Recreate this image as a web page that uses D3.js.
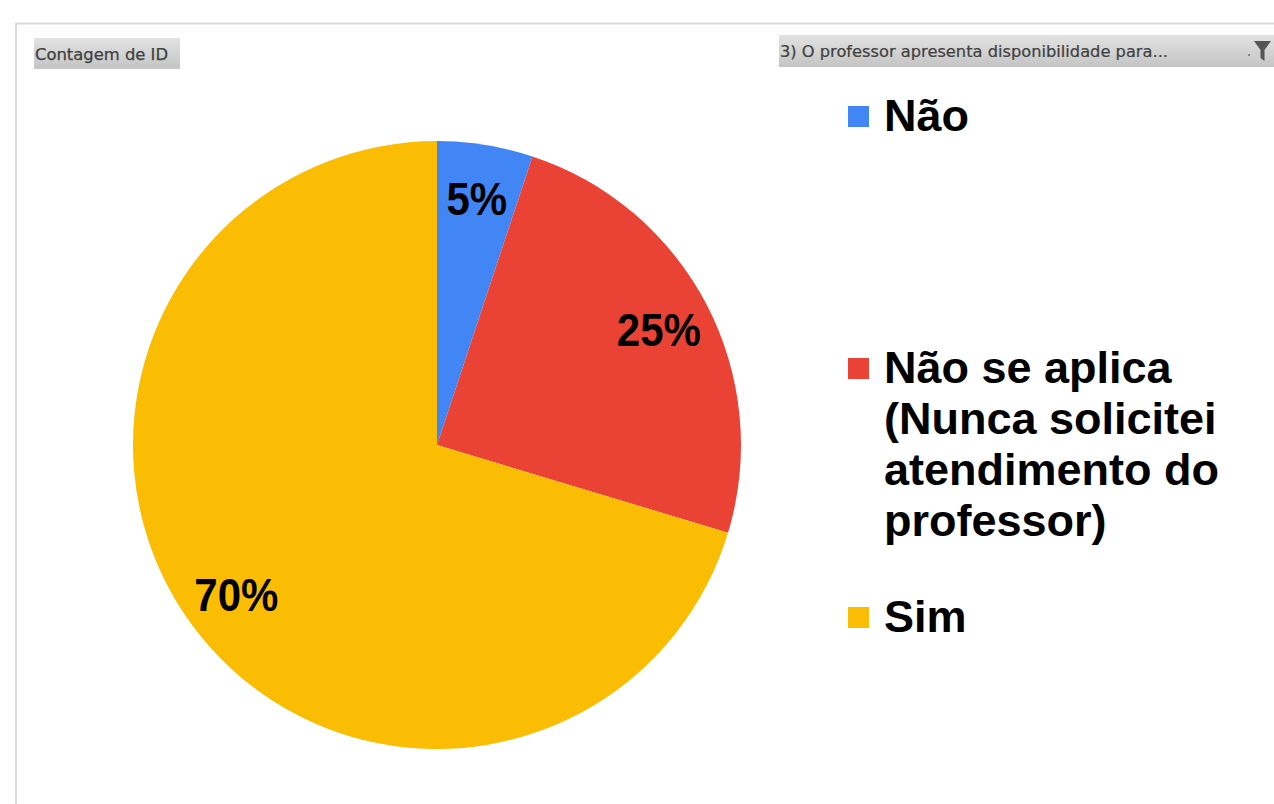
<!DOCTYPE html>
<html>
<head>
<meta charset="utf-8">
<script src="https://cdn.jsdelivr.net/npm/d3@7"></script>
<style>
  html, body { margin: 0; padding: 0; background: #fff; }
  svg { display: block; }
</style>
</head>
<body>
<svg id="chart" width="1274" height="804"></svg>
<script>
// ---- data (counts) ----
const categories = ["Não", "Não se aplica (Nunca solicitei atendimento do professor)", "Sim"];
const values = [6, 29, 83];
const colors = ["#4285F4", "#EA4335", "#FBBC04"];
const fieldButtonLabel = "Contagem de ID";
const filterButtonLabel = "3) O professor apresenta disponibilidade para...";

// ---- layout ----
const W = 1274, H = 804;
const cx = 437, cy = 445, R = 304;
const labelR = 250;
const fontFamily = "'Liberation Sans', Arial, Helvetica, sans-serif";
const legendX = 848, legendTextX = 884, legendMaxW = 375, legendLineH = 51;
const legendFirstBaselines = [131, 383, 632];

const svg = d3.select("#chart");

// gradient for buttons
const defs = svg.append("defs");
const g1 = defs.append("linearGradient").attr("id", "btn").attr("x1", 0).attr("x2", 0).attr("y1", 0).attr("y2", 1);
g1.append("stop").attr("offset", "0%").attr("stop-color", "#e2e2e2");
g1.append("stop").attr("offset", "50%").attr("stop-color", "#d3d3d3");
g1.append("stop").attr("offset", "100%").attr("stop-color", "#c4c4c4");

// frame
svg.append("line").attr("x1", 16).attr("x2", W).attr("y1", 23.5).attr("y2", 23.5)
  .attr("stroke", "#dadada").attr("stroke-width", 2);
svg.append("line").attr("x1", 16).attr("x2", 16).attr("y1", 23).attr("y2", H)
  .attr("stroke", "#dadada").attr("stroke-width", 2);

// field button
svg.append("rect").attr("x", 34).attr("y", 38).attr("width", 146).attr("height", 31)
  .attr("fill", "url(#btn)");
svg.append("text").attr("x", 35).attr("y", 60)
  .attr("font-family", "Tahoma, 'DejaVu Sans', sans-serif").attr("font-size", 15)
  .attr("fill", "#404040").attr("stroke", "#404040").attr("stroke-width", 0.25)
  .attr("textLength", 133).attr("lengthAdjust", "spacingAndGlyphs")
  .text(fieldButtonLabel);

// filter button
svg.append("rect").attr("x", 779).attr("y", 35).attr("width", W - 779).attr("height", 32)
  .attr("fill", "url(#btn)");
svg.append("text").attr("x", 780).attr("y", 57)
  .attr("font-family", "Tahoma, 'DejaVu Sans', sans-serif").attr("font-size", 15)
  .attr("fill", "#404040").attr("stroke", "#404040").attr("stroke-width", 0.2)
  .attr("textLength", 388).attr("lengthAdjust", "spacingAndGlyphs")
  .text(filterButtonLabel);
svg.append("rect").attr("x", 1248).attr("y", 54).attr("width", 2).attr("height", 2).attr("fill", "#888");
svg.append("path")
  .attr("d", "M1254,41 L1271,41 L1264.5,50 L1264.5,61 L1260.5,58 L1260.5,50 Z")
  .attr("fill", "#555");

// pie
const pie = d3.pie().sort(null).value(d => d.value);
const data = categories.map((c, i) => ({ name: c, value: values[i], color: colors[i] }));
const arcs = pie(data);
const arc = d3.arc().innerRadius(0).outerRadius(R);
const labelArc = d3.arc().innerRadius(labelR).outerRadius(labelR);
const total = d3.sum(values);

const gPie = svg.append("g").attr("transform", `translate(${cx},${cy})`);
gPie.selectAll("path.slice").data(arcs).join("path")
  .attr("class", "slice")
  .attr("d", arc)
  .attr("fill", d => d.data.color);

gPie.selectAll("text.pct").data(arcs).join("text")
  .attr("class", "pct")
  .attr("transform", d => `translate(${labelArc.centroid(d)}) scale(1,1.1)`)
  .attr("text-anchor", "middle")
  .attr("dy", "0.36em")
  .attr("font-family", fontFamily).attr("font-weight", "bold").attr("font-size", 42)
  .attr("fill", "#000")
  .text(d => d3.format(".0%")(d.data.value / total));

// legend
const gLeg = svg.append("g");
data.forEach((d, i) => {
  const base = legendFirstBaselines[i];
  gLeg.append("rect").attr("x", legendX).attr("y", base - 25).attr("width", 21).attr("height", 21)
    .attr("fill", d.color);
  const t = gLeg.append("text").attr("x", legendTextX).attr("y", base)
    .attr("font-family", fontFamily).attr("font-weight", "bold").attr("font-size", 45)
    .attr("fill", "#000");
  // word wrap
  const words = d.name.split(" ");
  let line = [];
  let tspan = t.append("tspan").attr("x", legendTextX).attr("y", base);
  let lineNo = 0;
  words.forEach(w => {
    line.push(w);
    tspan.text(line.join(" "));
    if (tspan.node().getComputedTextLength() > legendMaxW && line.length > 1) {
      line.pop();
      tspan.text(line.join(" "));
      line = [w];
      lineNo++;
      tspan = t.append("tspan").attr("x", legendTextX).attr("y", base + lineNo * legendLineH).text(w);
    }
  });
});
</script>
</body>
</html>
